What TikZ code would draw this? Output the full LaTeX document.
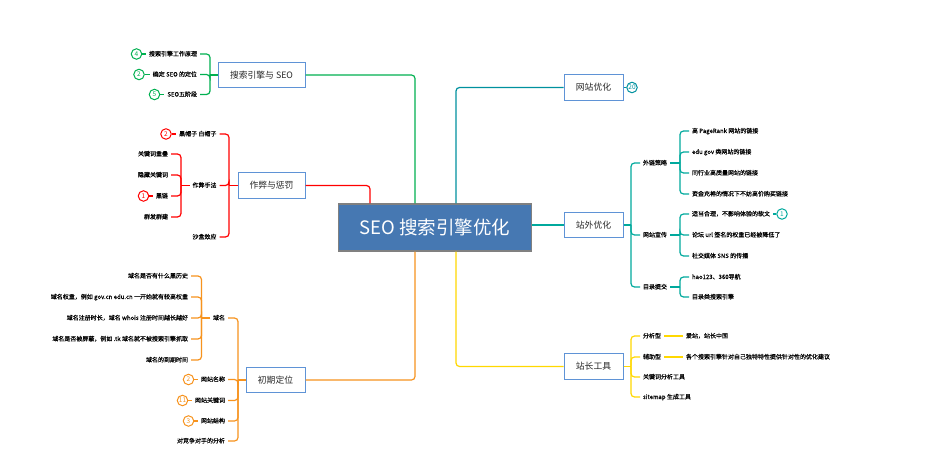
\documentclass[tikz,border=0pt]{standalone}
\usepackage{fontspec}
\setmainfont{Noto Sans CJK SC}
\newfontfamily\smallface[FakeBold=0.2]{Noto Sans CJK SC}
\definecolor{cg}{HTML}{00B050}
\definecolor{cr}{HTML}{FF0000}
\definecolor{co}{HTML}{F7931E}
\definecolor{ct}{HTML}{00A99D}
\definecolor{cb}{HTML}{00919F}
\definecolor{cy}{HTML}{FFD800}
\definecolor{bx}{HTML}{4A7EBB}
\definecolor{bl}{HTML}{5F93D6}
\tikzset{
  x=1pt,y=-1pt,
  root/.style={draw=black!50,line width=1.5pt,fill=bx!95!black,text=white,minimum width=193pt,minimum height=47pt,inner sep=0,font=\fontsize{18.5}{20}\selectfont},
  topic/.style={draw=bl,line width=1pt,fill=white,text=black!85,minimum height=25.5pt,inner sep=0,font=\fontsize{8.8}{11}\selectfont},
  lab/.style={inner sep=0,outer sep=3pt,text height=5pt,text depth=1pt,text=black,font=\smallface\fontsize{6}{7}\selectfont},
  ll/.style={lab,anchor=east},
  rl/.style={lab,anchor=west},
  num/.style={circle,draw=#1,text=#1,fill=white,line width=1pt,minimum size=10.5pt,inner sep=0,font=\fontsize{6.5}{7}\selectfont},
  link/.style={draw=#1,line width=1.2pt,rounded corners=3.5pt},
  j/.style={inner sep=0,minimum size=0pt}
}
\begin{document}
\begin{tikzpicture}
\useasboundingbox[fill=white] (0,0) rectangle (937,473);
% root and topics
\node[root] (seo) at (435,227.5) {SEO 搜索引擎优化};
\coordinate (rr) at (370,203.5);
\coordinate (rg) at (415,203.5);
\coordinate (rb) at (456,203.5);
\coordinate (ro) at (415,251.5);
\coordinate (ry) at (456,251.5);
\node[topic,minimum width=87pt] (tg) at (261.5,75) {搜索引擎与 SEO};
\node[topic,minimum width=67pt] (tr) at (271.5,185.5) {作弊与惩罚};
\node[topic,minimum width=59pt] (to) at (275.5,380) {初期定位};
\node[topic,minimum width=59pt] (tb) at (593.5,87.5) {网站优化};
\node[topic,minimum width=59pt] (tt) at (593.5,225) {站外优化};
\node[topic,minimum width=59pt] (ty) at (593.5,366.5) {站长工具};
\draw[link=cg] (tg.east) -| (rg);
\draw[link=cr] (tr.east) -| (rr);
\draw[link=co] (to.east) -| (ro);
\draw[link=cb] (tb.west) -| (rb);
\draw[link=cy] (ty.west) -| (ry);
\draw[link=ct] (seo.east |- tt) -- (tt.west);
% green
\coordinate (jg) at (210,75);
\node[ll] (g1) at (200,54) {搜索引擎工作原理};
\node[ll] (g2) at (200,74.5) {确定 SEO 的定位};
\node[ll] (g3) at (200,94.5) {SEO五阶段};
\node[num=cg] (gn1) at (136.5,54) {4};
\node[num=cg] (gn2) at (139,74.5) {2};
\node[num=cg] (gn3) at (154.5,94.5) {5};
\draw[link=cg] (tg.west) -- (jg);
\foreach \n in {g1,g2,g3} \draw[link=cg] (\n.east) -| (jg);
\draw[link=cg] (gn1) -- (g1);
\draw[link=cg] (gn2) -- (g2);
\draw[link=cg] (gn3) -- (g3);
% red
\coordinate (jr) at (229,185.5);
\node[ll] (r1) at (219.5,134) {黑帽子 白帽子};
\node[ll] (r2) at (219.5,185.5) {作弊手法};
\node[ll] (r3) at (219.5,237) {沙盒效应};
\node[num=cr] (rn1) at (166,134) {2};
\draw[link=cr] (tr.west) -- (jr);
\foreach \n in {r1,r2,r3} \draw[link=cr] (\n.east) -| (jr);
\draw[link=cr] (rn1) -- (r1);
\coordinate (jr2) at (181,185.5);
\node[ll] (r21) at (171,154) {关键词重叠};
\node[ll] (r22) at (171,175) {隐藏关键词};
\node[ll] (r23) at (171,196) {黑链};
\node[ll] (r24) at (171,217) {群发群建};
\node[num=cr] (rn2) at (143.5,196) {1};
\draw[link=cr] (r2.west) -- (jr2);
\foreach \n in {r21,r22,r23,r24} \draw[link=cr] (\n.east) -| (jr2);
\draw[link=cr] (rn2) -- (r23);
% orange
\coordinate (jo) at (238,380);
\node[ll] (o1) at (228,318) {域名};
\node[ll] (o2) at (228,379.5) {网站名称};
\node[ll] (o3) at (228,400.5) {网站关键词};
\node[ll] (o4) at (228,421) {网站结构};
\node[ll] (o5) at (228,441) {对竞争对手的分析};
\node[num=co] (on2) at (188.5,379.5) {2};
\node[num=co] (on3) at (182.5,400.5) {11};
\node[num=co] (on4) at (188.5,421) {3};
\draw[link=co] (to.west) -- (jo);
\foreach \n in {o1,o2,o3,o4,o5} \draw[link=co] (\n.east) -| (jo);
\draw[link=co] (on2) -- (o2);
\draw[link=co] (on3) -- (o3);
\draw[link=co] (on4) -- (o4);
\coordinate (jo2) at (201.5,318);
\node[ll] (o11) at (191,276) {域名是否有什么黑历史};
\node[ll] (o12) at (191,297) {域名权重，例如 gov.cn edu.cn 一开始就有较高权重};
\node[ll] (o13) at (191,318) {域名注册时长，域名 whois 注册时间越长越好};
\node[ll] (o14) at (191,339) {域名是否被屏蔽，例如 .tk 域名就不被搜索引擎抓取};
\node[ll] (o15) at (191,360) {域名的到期时间};
\draw[link=co] (o1.west) -- (jo2);
\foreach \n in {o11,o12,o13,o14,o15} \draw[link=co] (\n.east) -| (jo2);
% blue
\node[num=cb] (bn) at (632,87.5) {20};
\draw[link=cb] (tb.east) -- (bn);
% teal
\coordinate (jt) at (631,225);
\node[rl] (t1) at (640,163) {外链策略};
\node[rl] (t2) at (640,235) {网站宣传};
\node[rl] (t3) at (640,287) {目录提交};
\draw[link=ct] (tt.east) -- (jt);
\foreach \n in {t1,t2,t3} \draw[link=ct] (\n.west) -| (jt);
\coordinate (jt1) at (680,163);
\node[rl] (t11) at (689,131) {高 PageRank 网站的链接};
\node[rl] (t12) at (689,152) {edu gov 类网站的链接};
\node[rl] (t13) at (689,173) {同行业高质量网站的链接};
\node[rl] (t14) at (689,194) {资金充裕的情况下不妨高价购买链接};
\draw[link=ct] (t1.east) -- (jt1);
\foreach \n in {t11,t12,t13,t14} \draw[link=ct] (\n.west) -| (jt1);
\coordinate (jt2) at (680,235);
\node[rl] (t21) at (689,214) {适当合理，不影响体验的软文};
\node[rl] (t22) at (689,235) {论坛 url 签名的权重已经被降低了};
\node[rl] (t23) at (689,256) {社交媒体 SNS 的传播};
\node[num=ct] (tn) at (782,214) {1};
\draw[link=ct] (t2.east) -- (jt2);
\foreach \n in {t21,t22,t23} \draw[link=ct] (\n.west) -| (jt2);
\draw[link=ct] (t21) -- (tn);
\coordinate (jt3) at (680,287);
\node[rl] (t31) at (689,277) {hao123、360导航};
\node[rl] (t32) at (689,297) {目录类搜索引擎};
\draw[link=ct] (t3.east) -- (jt3);
\foreach \n in {t31,t32} \draw[link=ct] (\n.west) -| (jt3);
% yellow
\coordinate (jy) at (631,366.5);
\node[rl] (y1) at (640,336) {分析型};
\node[rl] (y2) at (640,357) {辅助型};
\node[rl] (y3) at (640,377) {关键词分析工具};
\node[rl] (y4) at (640,397) {sitemap 生成工具};
\draw[link=cy] (ty.east) -- (jy);
\foreach \n in {y1,y2,y3,y4} \draw[link=cy] (\n.west) -| (jy);
\node[rl] (y11) at (683,336) {爱站，站长中国};
\node[rl] (y21) at (683,357) {各个搜索引擎针对自己独特特性提供针对性的优化建议};
\draw[link=cy] (y1.east) -- (y11.west);
\draw[link=cy] (y2.east) -- (y21.west);
\end{tikzpicture}
\end{document}
